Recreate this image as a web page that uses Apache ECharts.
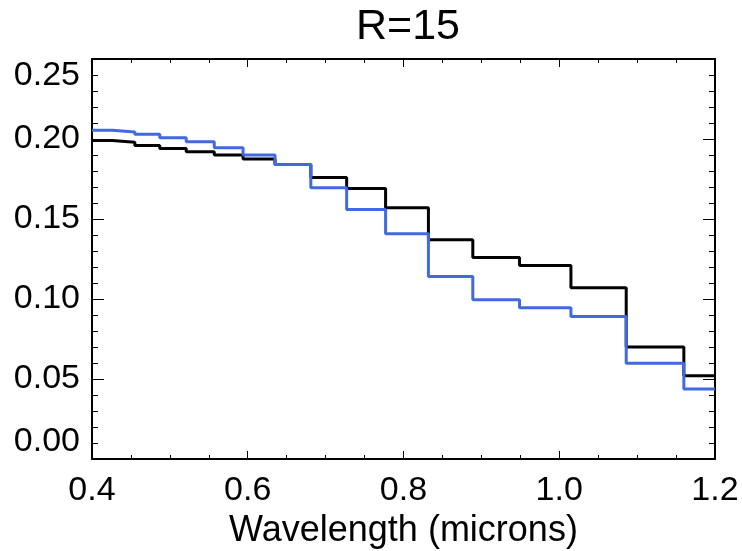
<!DOCTYPE html>
<html>
<head>
<meta charset="utf-8">
<script src="https://cdn.jsdelivr.net/npm/echarts@6/dist/echarts.min.js"></script>
<style>
  html, body { margin: 0; padding: 0; background: #fff; }
  #chart { width: 742px; height: 551px; }
</style>
</head>
<body>
<div id="chart"></div>
<script>
// bin edges (microns), last one is the right edge of the last bin
const binEdges = [0.400, 0.426, 0.455, 0.487, 0.521, 0.557, 0.594, 0.635, 0.681, 0.727,
                  0.777, 0.832, 0.889, 0.949, 1.015, 1.086, 1.160, 1.200];
const blackFlux = [0.199, 0.198, 0.196, 0.194, 0.192, 0.190, 0.1875, 0.184, 0.176, 0.169,
                   0.157, 0.137, 0.126, 0.121, 0.107, 0.070, 0.052];
const blueFlux = [0.2054, 0.2044, 0.2029, 0.2008, 0.1983, 0.1946, 0.190, 0.184, 0.1696, 0.156,
                  0.1408, 0.114, 0.0996, 0.0946, 0.089, 0.0598, 0.0437];
const xTicks = [0.4, 0.6, 0.8, 1.0, 1.2];
const yTicks = [0.00, 0.05, 0.10, 0.15, 0.20, 0.25];

const font = '"Liberation Sans", Helvetica, Arial, sans-serif';

// step histogram: one point per left edge, plus the closing right edge
function steps(vals) {
  const pts = vals.map((v, i) => [binEdges[i], v]);
  pts.push([binEdges[binEdges.length - 1], vals[vals.length - 1]]);
  return pts;
}

const frameLine = { show: true, onZero: false, lineStyle: { color: '#000', width: 2 } };

function xAx(pos, labels) {
  return {
    type: 'value', position: pos,
    min: xTicks[0], max: xTicks[xTicks.length - 1], interval: 0.2,
    axisLine: frameLine,
    axisTick: { show: true, inside: true, length: 8, lineStyle: { color: '#000', width: 1 } },
    minorTick: { show: true, splitNumber: 4, length: 4, lineStyle: { color: '#000', width: 1 } },
    splitLine: { show: false },
    axisLabel: {
      show: labels, margin: 15, color: '#000', fontSize: 34, fontFamily: font,
      formatter: v => v.toFixed(1)
    },
    name: labels ? 'Wavelength (microns)' : '',
    nameLocation: 'middle', nameGap: 54,
    nameTextStyle: { color: '#000', fontSize: 36, fontFamily: font }
  };
}

function yAx(pos, labels) {
  return {
    type: 'value', position: pos,
    min: yTicks[0], max: yTicks[yTicks.length - 1], interval: 0.05,
    axisLine: frameLine,
    axisTick: { show: true, inside: true, length: 12, lineStyle: { color: '#000', width: 1 } },
    minorTick: { show: true, splitNumber: 5, length: 6, lineStyle: { color: '#000', width: 1 } },
    splitLine: { show: false },
    axisLabel: {
      show: labels, margin: 12, color: '#000', fontSize: 34, fontFamily: font,
      formatter: v => v.toFixed(2),
      verticalAlignMinLabel: 'bottom',
      verticalAlignMaxLabel: 'top'
    }
  };
}

const chart = echarts.init(document.getElementById('chart'), null, { renderer: 'canvas' });
chart.setOption({
  animation: false,
  backgroundColor: '#fff',
  title: {
    text: 'R=15', left: 403, textAlign: 'center', top: 1,
    textStyle: { color: '#000', fontSize: 43, fontWeight: 'normal', fontFamily: font }
  },
  grid: { left: 92, right: 27, top: 59, height: 400, outerBoundsMode: 'none' },
  xAxis: [xAx('bottom', true), xAx('top', false)],
  yAxis: [yAx('left', true), yAx('right', false)],
  series: [
    {
      type: 'line', step: 'end', data: steps(blackFlux), showSymbol: false,
      lineStyle: { color: '#000', width: 3 }, xAxisIndex: 0, yAxisIndex: 0
    },
    {
      type: 'line', step: 'end', data: steps(blueFlux), showSymbol: false,
      lineStyle: { color: '#4169e1', width: 3 }, xAxisIndex: 0, yAxisIndex: 0
    }
  ]
});
</script>
</body>
</html>
